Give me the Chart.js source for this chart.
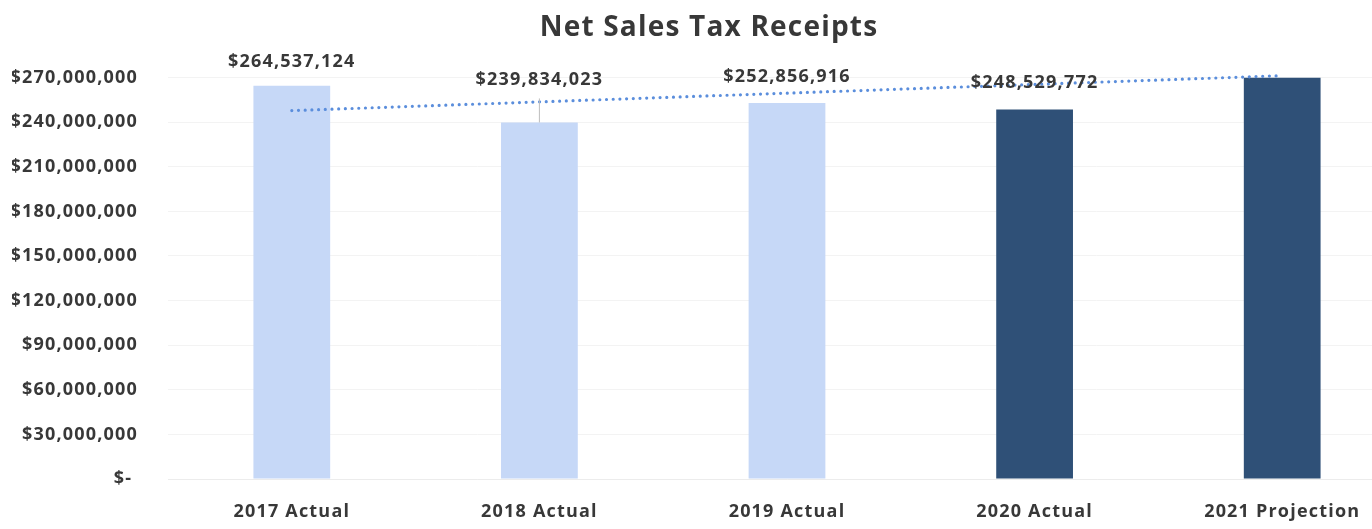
<!DOCTYPE html>
<html lang="en-US">
<head>
  <meta charset="utf-8">
  <title>Net Sales Tax Receipts</title>
  <script src="https://cdn.jsdelivr.net/npm/chart.js@4.4.1/dist/chart.umd.min.js"></script>
  <style>
    html, body { margin: 0; padding: 0; background: #fff; overflow: hidden; }
    .wrapper { position: relative; width: 1418px; height: 529px; }
  </style>
</head>
<body>
  <div class="wrapper">
    <canvas id="chart-0"></canvas>
  </div>

  <script>
    let categories = ['2017 Actual', '2018 Actual', '2019 Actual', '2020 Actual', '2021 Projection'];
    let receipts = [264537124, 239834023, 252856916, 248529772, 270000000];
    let showValue = [true, true, true, true, false];
    // dotted trend line, read at its two ends
    let trend = [247800000, null, null, null, 271300000];
    let tickValues = [0, 30000000, 60000000, 90000000, 120000000, 150000000, 180000000, 210000000, 240000000, 270000000];

    let barColors = ['#C6D8F7', '#C6D8F7', '#C6D8F7', '#2F5077', '#2F5077'];
    let textColor = '#383838';
    let fontFamily = '"Open Sans", "Noto Sans", sans-serif';

    function money(v) {
      return '$' + v.toLocaleString('en-US');
    }

    // a little tracking so the text runs as wide as the original
    let spacing = {
      id: 'spacing',
      beforeUpdate(chart) { chart.ctx.letterSpacing = '1.2px'; },
      beforeDraw(chart) { chart.ctx.letterSpacing = '1.2px'; }
    };

    let valueLabels = {
      id: 'valueLabels',
      afterDatasetsDraw(chart, args, opts) {
        let ctx = chart.ctx;
        let meta = chart.getDatasetMeta(1);
        ctx.save();
        ctx.font = '700 18px ' + fontFamily;
        ctx.fillStyle = textColor;
        ctx.textAlign = 'center';
        ctx.textBaseline = 'middle';
        meta.data.forEach(function(bar, i) {
          if (!showValue[i]) return;
          let y = bar.y - opts.lift[i];
          if (opts.lift[i] > 35) {
            ctx.save();
            ctx.strokeStyle = '#bdbdbd';
            ctx.lineWidth = 1;
            ctx.beginPath();
            ctx.moveTo(bar.x, y + 19);
            ctx.lineTo(bar.x, bar.y);
            ctx.stroke();
            ctx.restore();
          }
          ctx.fillText(money(receipts[i]), bar.x, y);
        });
        ctx.restore();
      }
    };

    let chart = new Chart('chart-0', {
      data: {
        labels: categories,
        datasets: [
          {
            type: 'line',
            data: trend,
            order: 0,
            borderColor: '#5B8EDC',
            borderWidth: 3.2,
            borderDash: [0, 6.7],
            borderCapStyle: 'round',
            pointRadius: 0,
            spanGaps: true,
            clip: false
          },
          {
            type: 'bar',
            data: receipts,
            order: 1,
            backgroundColor: barColors,
            categoryPercentage: 1,
            barPercentage: 0.31
          }
        ]
      },
      plugins: [spacing, valueLabels],
      options: {
        responsive: true,
        maintainAspectRatio: false,
        animation: false,
        devicePixelRatio: 1,
        layout: {
          padding: { left: 12, right: 12, top: 0, bottom: 0 }
        },
        plugins: {
          legend: { display: false },
          tooltip: { enabled: false },
          title: {
            display: true,
            text: 'Net Sales Tax Receipts',
            color: textColor,
            font: { family: fontFamily, size: 28, weight: '700' },
            padding: { top: 11, bottom: 33 }
          },
          valueLabels: {
            lift: [24, 43, 26, 27, 0]
          }
        },
        scales: {
          x: {
            afterFit(scale) {
              scale.height = 50;
            },
            grid: { display: false, drawTicks: false },
            border: { display: true, color: '#ececec' },
            ticks: {
              color: textColor,
              font: { family: fontFamily, size: 18, weight: '700' },
              padding: 22,
              maxRotation: 0
            }
          },
          y: {
            min: 0,
            max: 270000000,
            afterBuildTicks(scale) {
              scale.ticks = tickValues.map(function(v) { return { value: v }; });
            },
            afterFit(scale) {
              scale.width = 156;
            },
            grid: { color: '#f3f3f3', drawTicks: false },
            border: { display: false },
            ticks: {
              color: textColor,
              font: { family: fontFamily, size: 18, weight: '700' },
              padding: 30,
              callback: function(v) {
                return v === 0 ? '$- ' : money(v);
              }
            }
          }
        }
      }
    });
  </script>
</body>
</html>
